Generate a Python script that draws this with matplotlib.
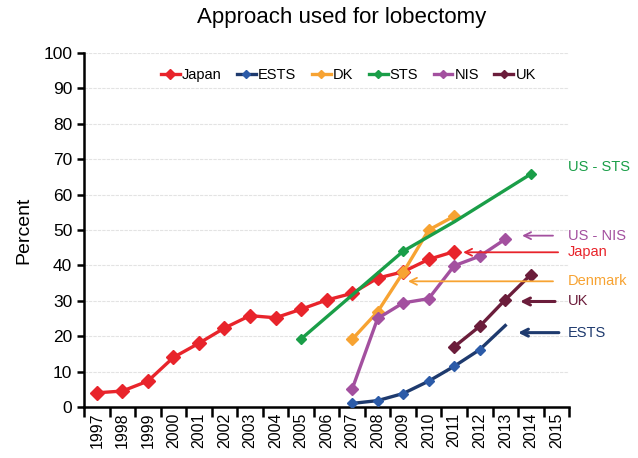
import numpy as np
import matplotlib
matplotlib.use("Agg")
import matplotlib.pyplot as plt

plt.rcParams['font.family'] = ['Liberation Sans', 'DejaVu Sans']

years = list(range(1997, 2016))

# series: years and percent values
japan_years = list(range(1997, 2012))
japan_vals = [4.0, 4.5, 7.3, 14.0, 18.0, 22.3, 25.8, 25.2, 27.6, 30.2, 32.1, 36.4, 38.2, 41.7, 43.9]

ests_years = list(range(2007, 2014))
ests_vals = [1.0, 1.8, 3.8, 7.3, 11.5, 16.2, 23.0]

dk_years = list(range(2007, 2012))
dk_vals = [19.1, 26.9, 38.0, 50.0, 53.9]

sts_years = [2005, 2009, 2011, 2014]
sts_vals = [19.2, 44.0, 52.3, 65.8]

nis_years = list(range(2007, 2014))
nis_vals = [5.0, 25.0, 29.4, 30.6, 39.9, 42.6, 47.4]

uk_years = list(range(2011, 2015))
uk_vals = [17.0, 22.8, 30.3, 37.4]

series = [
    ("Japan", japan_years, japan_vals, "#E8242B", "#E8242B", 7, None),
    ("ESTS", ests_years, ests_vals, "#1E3A6E", "#2C5BA8", 5.5, [0, 1, 2, 3, 4, 5]),
    ("DK", dk_years, dk_vals, "#F7A332", "#F7A332", 6, None),
    ("STS", sts_years, sts_vals, "#1A9E48", "#1A9E48", 5.5, [0, 1, 3]),
    ("NIS", nis_years, nis_vals, "#A3509F", "#A3509F", 6, None),
    ("UK", uk_years, uk_vals, "#6B1D3B", "#6B1D3B", 6, None),
]

fig = plt.figure(figsize=(6.38, 4.58), dpi=100)
ax = fig.add_axes([0.1317, 0.1114, 0.7603, 0.7729])

for name, yrs, vals, lc, mc, ms, mev in series:
    x = [y - years[0] for y in yrs]
    ax.plot(x, vals, color=lc, lw=2.4, marker="D", ms=ms, mfc=mc, mec=mc,
            markevery=mev, label=name, zorder=3)

ax.set_xlim(-0.5, len(years) - 0.5)
ax.set_ylim(0, 100)
ax.set_yticks(np.arange(0, 101, 10))
ax.tick_params(axis="y", labelsize=12.5, width=1.8, length=5, direction="out")
ax.set_xticks(np.arange(len(years)))
ax.set_xticklabels([str(y) for y in years], rotation=90, fontsize=11.5)
ax.tick_params(axis="x", which="major", length=0, pad=4)
ax.set_xticks(np.arange(len(years) + 1) - 0.5, minor=True)
ax.tick_params(axis="x", which="minor", length=7, width=1.8, direction="out")

ax.grid(axis="y", color="#E3E3E3", lw=0.8, ls=(0, (3, 1)))
ax.set_axisbelow(True)
for s in ["top", "right"]:
    ax.spines[s].set_visible(False)
for s in ["left", "bottom"]:
    ax.spines[s].set_linewidth(1.8)

ax.set_ylabel("Percent", fontsize=14, labelpad=8)
fig.suptitle("Approach used for lobectomy", fontsize=16, x=0.535, y=0.985)

ax.legend(loc="upper center", bbox_to_anchor=(0.545, 0.995), ncol=6, frameon=False,
          fontsize=10.5, handlelength=1.3, handletextpad=0.15, columnspacing=1.05,
          markerscale=0.75)

# labels with arrows on the right
notes = [
    ("US - STS", None, None, 67.9, "#1A9E48", 1.5),
    ("US - NIS", 16.66, 17.87, 48.4, "#A3509F", 1.3),
    ("Japan", 14.35, 18.07, 43.7, "#E8242B", 1.3),
    ("Denmark", 12.19, 17.87, 35.5, "#F7A332", 1.3),
    ("UK", 16.58, 17.95, 29.8, "#6B1D3B", 2.2),
    ("ESTS", 16.5, 18.1, 21.0, "#1E3A6E", 2.2),
]
for txt, head, tail, yv, col, lw in notes:
    if head is not None:
        ax.annotate("", xy=(head, yv), xytext=(tail, yv), annotation_clip=False,
                    arrowprops=dict(arrowstyle="->,head_length=0.5,head_width=0.25",
                                    color=col, lw=lw, shrinkA=0, shrinkB=0))
    ax.text(18.45, yv, txt, color=col, fontsize=10.5, va="center", ha="left",
            clip_on=False)

fig.savefig("out.png", dpi=100)
